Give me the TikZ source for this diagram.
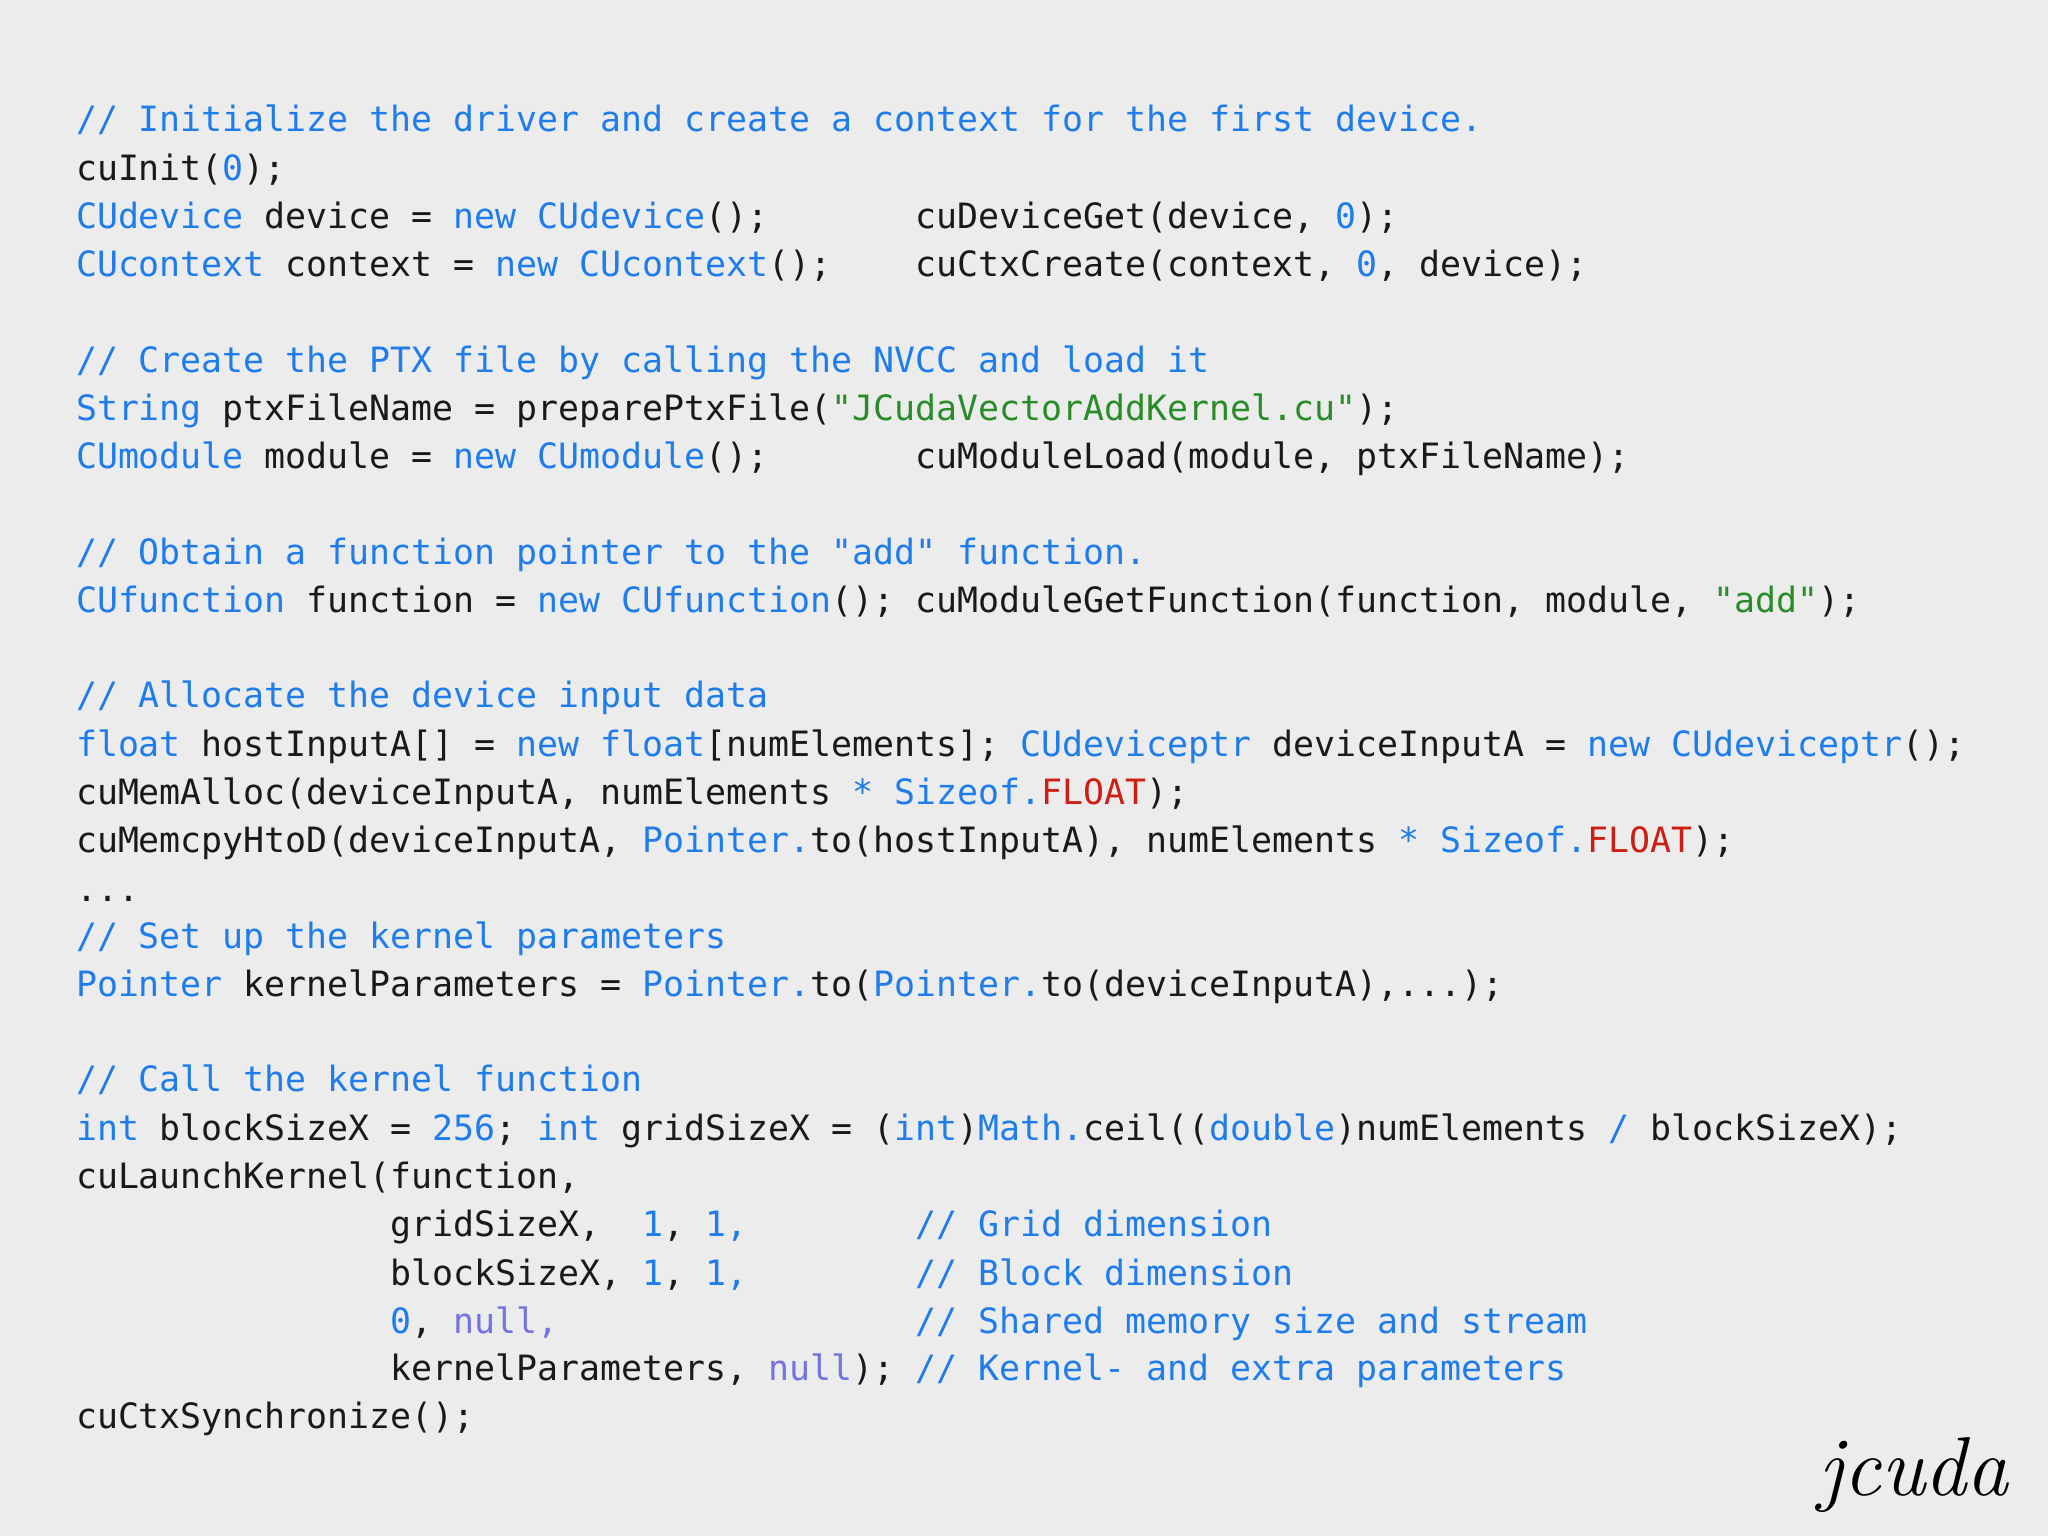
\documentclass[tikz,border=0pt]{standalone}
\usepackage{fontspec}
\setmonofont{DejaVu Sans Mono}
\definecolor{bg}{RGB}{236,236,236}
\definecolor{kw}{RGB}{30,125,235}
\definecolor{st}{RGB}{40,140,40}
\definecolor{rd}{RGB}{205,30,20}
\definecolor{nu}{RGB}{115,115,225}
\definecolor{tx}{RGB}{25,25,25}
\newcommand{\K}[1]{\textcolor{kw}{#1}}
\newcommand{\Sg}[1]{\textcolor{st}{#1}}
\newcommand{\R}[1]{\textcolor{rd}{#1}}
\newcommand{\N}[1]{\textcolor{nu}{#1}}
\begin{document}
\begin{tikzpicture}[x=1pt,y=-1pt,
  code/.style={anchor=base west,inner sep=0pt,font=\ttfamily\fontsize{26.7}{30}\selectfont,text=tx}]
\fill[bg] (0,0) rectangle (1568,1176);
\useasboundingbox (0,0) rectangle (1568,1176);
\node[code] (l1) at (58,101) {\K{//~Initialize~the~driver~and~create~a~context~for~the~first~device.}};
\node[code] (l2) at (58,138) {cuInit(\K{0});};
\node[code] (l3) at (58,175) {\K{CUdevice}~device~=~\K{new}~\K{CUdevice}();~~~~~~~cuDeviceGet(device,~\K{0});};
\node[code] (l4) at (58,212) {\K{CUcontext}~context~=~\K{new}~\K{CUcontext}();~~~~cuCtxCreate(context,~\K{0},~device);};
\node[code] (l6) at (58,285) {\K{//~Create~the~PTX~file~by~calling~the~NVCC~and~load~it}};
\node[code] (l7) at (58,322) {\K{String}~ptxFileName~=~preparePtxFile(\Sg{"JCudaVectorAddKernel.cu"});};
\node[code] (l8) at (58,359) {\K{CUmodule}~module~=~\K{new}~\K{CUmodule}();~~~~~~~cuModuleLoad(module,~ptxFileName);};
\node[code] (l10) at (58,432) {\K{//~Obtain~a~function~pointer~to~the~"add"~function.}};
\node[code] (l11) at (58,469) {\K{CUfunction}~function~=~\K{new}~\K{CUfunction}();~cuModuleGetFunction(function,~module,~\Sg{"add"});};
\node[code] (l13) at (58,542) {\K{//~Allocate~the~device~input~data}};
\node[code] (l14) at (58,579) {\K{float}~hostInputA[]~=~\K{new}~\K{float}[numElements];~\K{CUdeviceptr}~deviceInputA~=~\K{new}~\K{CUdeviceptr}();};
\node[code] (l15) at (58,616) {cuMemAlloc(deviceInputA,~numElements~\K{*}~\K{Sizeof.}\R{FLOAT});};
\node[code] (l16) at (58,653) {cuMemcpyHtoD(deviceInputA,~\K{Pointer.}to(hostInputA),~numElements~\K{*}~\K{Sizeof.}\R{FLOAT});};
\node[code] (l17) at (58,690) {...};
\node[code] (l18) at (58,726) {\K{//~Set~up~the~kernel~parameters}};
\node[code] (l19) at (58,763) {\K{Pointer}~kernelParameters~=~\K{Pointer.}to(\K{Pointer.}to(deviceInputA),...);};
\node[code] (l21) at (58,836) {\K{//~Call~the~kernel~function}};
\node[code] (l22) at (58,873) {\K{int}~blockSizeX~=~\K{256};~\K{int}~gridSizeX~=~(\K{int})\K{Math.}ceil((\K{double})numElements~\K{/}~blockSizeX);};
\node[code] (l23) at (58,910) {cuLaunchKernel(function,};
\node[code] (l24) at (58,947) {~~~~~~~~~~~~~~~gridSizeX,~~\K{1},~\K{1,}~~~~~~~~\K{//~Grid~dimension}};
\node[code] (l25) at (58,984) {~~~~~~~~~~~~~~~blockSizeX,~\K{1},~\K{1,}~~~~~~~~\K{//~Block~dimension}};
\node[code] (l26) at (58,1021) {~~~~~~~~~~~~~~~\K{0},~\N{null,}~~~~~~~~~~~~~~~~~\K{//~Shared~memory~size~and~stream}};
\node[code] (l27) at (58,1057) {~~~~~~~~~~~~~~~kernelParameters,~\N{null});~\K{//~Kernel-~and~extra~parameters}};
\node[code] (l28) at (58,1094) {cuCtxSynchronize();};
\node[anchor=base east,inner sep=0pt,font=\itshape\fontsize{64}{64}\selectfont,text=black] (logo) at (1538,1145) {jcuda};
\end{tikzpicture}
\end{document}
